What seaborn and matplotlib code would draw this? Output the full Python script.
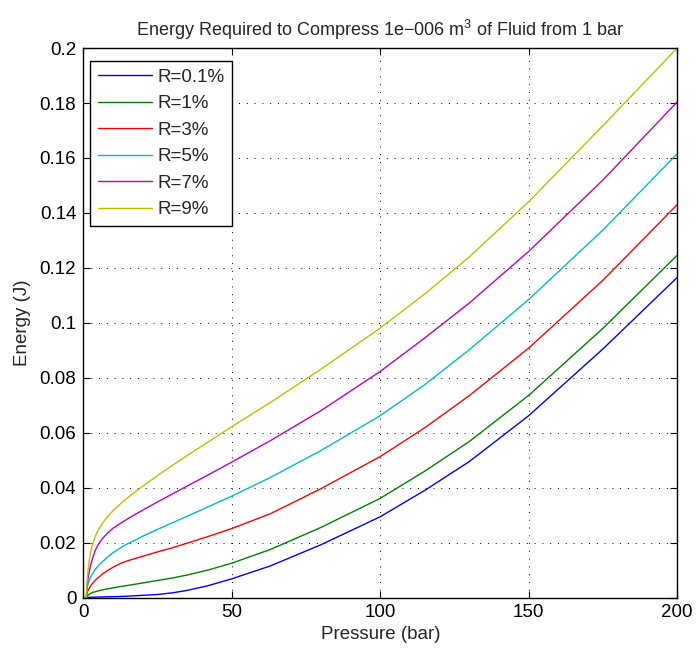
import matplotlib
matplotlib.use("Agg")
import matplotlib.pyplot as plt
import seaborn as sns
import pandas as pd

pressure = [1, 1.25, 1.5, 2, 2.5, 3, 4, 5, 6.5, 8, 10, 12.5, 15, 20, 25, 30, 35, 42, 50,
            63, 80, 100, 115, 130, 150, 175, 200]

e_r01 = [0, 0.00002, 0.00003, 0.00005, 0.00007, 0.0001, 0.00013, 0.00018, 0.00023, 0.00027, 0.00031,
         0.00038, 0.0005, 0.0008, 0.0011, 0.0017, 0.0026, 0.0043, 0.0068,
         0.0115, 0.0192, 0.0294, 0.039, 0.0495, 0.0662, 0.0905, 0.1165]
e_r1 = [0, 0.0005, 0.0008, 0.0012, 0.0015, 0.0018, 0.0021, 0.0024, 0.0028, 0.0031, 0.0035,
        0.004, 0.0044, 0.0053, 0.0062, 0.0071, 0.0082, 0.0100, 0.0125,
        0.0175, 0.0255, 0.0361, 0.046, 0.0568, 0.0736, 0.098, 0.1246]
e_r3 = [0, 0.0015, 0.0024, 0.0034, 0.0043, 0.005, 0.0062, 0.0072, 0.0086, 0.0097, 0.011,
        0.0124, 0.0134, 0.015, 0.0166, 0.0181, 0.0198, 0.0222, 0.0251,
        0.0305, 0.0396, 0.0513, 0.0618, 0.0735, 0.0908, 0.1155, 0.143]
e_r5 = [0, 0.0031, 0.0045, 0.0062, 0.0075, 0.0085, 0.0102, 0.0115, 0.0131, 0.0146, 0.0163,
        0.0181, 0.0196, 0.0223, 0.0248, 0.0272, 0.0296, 0.033, 0.0369,
        0.0437, 0.0535, 0.0662, 0.0775, 0.0902, 0.1085, 0.1338, 0.1615]
e_r7 = [0, 0.0038, 0.0063, 0.0093, 0.0118, 0.0138, 0.0171, 0.0192, 0.0215, 0.0233, 0.0252,
        0.027, 0.0287, 0.0318, 0.0348, 0.0377, 0.0406, 0.0446, 0.0493,
        0.0571, 0.068, 0.0823, 0.0945, 0.1072, 0.126, 0.152, 0.1804]
e_r9 = [0, 0.0055, 0.0088, 0.0135, 0.0168, 0.019, 0.0222, 0.0245, 0.0271, 0.0292, 0.0316,
        0.0341, 0.0364, 0.0405, 0.0444, 0.0481, 0.0517, 0.0566, 0.0622,
        0.071, 0.0831, 0.0981, 0.1105, 0.124, 0.1441, 0.1718, 0.2]

labels = ["R=0.1%", "R=1%", "R=3%", "R=5%", "R=7%", "R=9%"]
series = [e_r01, e_r1, e_r3, e_r5, e_r7, e_r9]
colors = [(0, 0, 1), (0, 0.5, 0), (1, 0, 0), (0, 0.75, 0.75), (0.75, 0, 0.75), (0.75, 0.75, 0)]

x_ticks = [0, 50, 100, 150, 200]
y_ticks = [0, 0.02, 0.04, 0.06, 0.08, 0.1, 0.12, 0.14, 0.16, 0.18, 0.2]
y_ticklabels = ["0", "0.02", "0.04", "0.06", "0.08", "0.1", "0.12", "0.14", "0.16", "0.18", "0.2"]

rows = []
for lab, vals in zip(labels, series):
    for p, v in zip(pressure, vals):
        rows.append({"Pressure": p, "Energy": v, "Series": lab})
df = pd.DataFrame(rows)

sns.set_theme(style="white")
plt.rcParams["font.family"] = ["Liberation Sans", "DejaVu Sans"]
plt.rcParams["mathtext.default"] = "regular"

fig = plt.figure(figsize=(6.96, 6.59), dpi=100)
ax = fig.add_axes([0.1197, 0.0933, 0.8533, 0.8337])

sns.lineplot(data=df, x="Pressure", y="Energy", hue="Series", hue_order=labels,
             palette=colors, estimator=None, sort=False, linewidth=1.0, ax=ax)

ax.set_xlim(0, 200)
ax.set_ylim(0, 0.2)
ax.set_xticks(x_ticks)
ax.set_xticklabels([str(t) for t in x_ticks])
ax.set_yticks(y_ticks)
ax.set_yticklabels(y_ticklabels)

fs = 13.5
ax.tick_params(direction="in", length=5, width=0.8, colors="black", labelsize=fs,
               top=True, right=True, bottom=True, left=True, pad=5)
for s in ax.spines.values():
    s.set_visible(True)
    s.set_color("black")
    s.set_linewidth(1.0)

ax.grid(True, color="black", linestyle=(0, (1, 7)), linewidth=0.7)

ax.set_xlabel("Pressure (bar)", fontsize=fs, labelpad=3)
ax.set_ylabel("Energy (J)", fontsize=fs, labelpad=6)
ax.set_title("Energy Required to Compress 1e\u2212006 m$^3$ of Fluid from 1 bar", fontsize=13, pad=9)

leg = ax.legend(loc="upper left", bbox_to_anchor=(0.0118, 0.9763), borderaxespad=0,
                fontsize=fs, frameon=True, fancybox=False, framealpha=1,
                edgecolor="black", handlelength=2.9, labelspacing=0.5,
                handletextpad=0.3, borderpad=0.4)
leg.get_frame().set_linewidth(1.0)

fig.savefig("out.png", dpi=100)
